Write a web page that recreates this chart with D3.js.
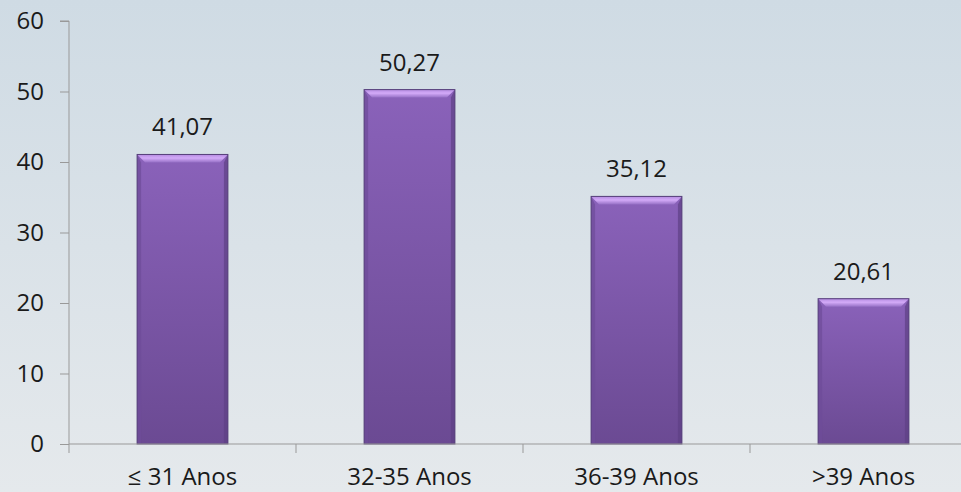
<!DOCTYPE html>
<meta charset='utf-8'>
<style>
  body { margin: 0; }
  svg { display: block; font-family: "Open Sans", sans-serif; }
</style>
<body></body>
<script src="https://cdn.jsdelivr.net/npm/d3@7"></script>
<script>

// data
const categories = ['≤ 31 Anos', '32-35 Anos', '36-39 Anos', '>39 Anos'];
const values = [41.07, 50.27, 35.12, 20.61];
const yTicks = [0, 10, 20, 30, 40, 50, 60];

const width = 961, height = 492;
const margin = {left: 69, top: 21, bottom: 48};
const fontSize = 24;

const svg = d3.select('body').append('svg')
  .attr('width', width)
  .attr('height', height);

const defs = svg.append('defs');

const bg = defs.append('linearGradient').attr('id', 'bg')
  .attr('x1', 0).attr('y1', 0).attr('x2', 0).attr('y2', 1);
bg.append('stop').attr('offset', '0%').attr('stop-color', '#cfdbe4');
bg.append('stop').attr('offset', '100%').attr('stop-color', '#e5e9ec');

const barFill = defs.append('linearGradient').attr('id', 'barFill')
  .attr('x1', 0).attr('y1', 0).attr('x2', 0).attr('y2', 1);
barFill.append('stop').attr('offset', '0%').attr('stop-color', '#8a62ba');
barFill.append('stop').attr('offset', '100%').attr('stop-color', '#6b4a93');

const topFill = defs.append('linearGradient').attr('id', 'topFill')
  .attr('x1', 0).attr('y1', 0).attr('x2', 0).attr('y2', 1);
topFill.append('stop').attr('offset', '0%').attr('stop-color', '#b48ae0');
topFill.append('stop').attr('offset', '45%').attr('stop-color', '#d3aaf8');
topFill.append('stop').attr('offset', '100%').attr('stop-color', '#9670c6');

svg.append('rect').attr('width', width).attr('height', height).attr('fill', 'url(#bg)');

const x = d3.scaleBand()
  .domain(categories)
  .range([margin.left, 977])
  .paddingInner(0.6)
  .paddingOuter(0.3);

const y = d3.scaleLinear()
  .domain([0, 60])
  .range([height - margin.bottom, margin.top]);

// bars
const bev = 8, side = 4;
const bars = svg.append('g').selectAll('g')
  .data(values)
  .join('g')
  .attr('transform', (d, i) => `translate(${x(categories[i])},0)`);

bars.each(function(d) {
  const g = d3.select(this);
  const w = x.bandwidth(), t = y(d), b = y(0);
  g.append('rect')
    .attr('x', 0).attr('y', t).attr('width', w).attr('height', b - t)
    .attr('fill', 'url(#barFill)');
  // side bevels
  g.append('path')
    .attr('d', `M0,${t}L${side},${t + bev}L${side},${b}L0,${b}Z`)
    .attr('fill', '#6e4c98').attr('opacity', 0.7);
  g.append('path')
    .attr('d', `M${w},${t}L${w - side},${t + bev}L${w - side},${b}L${w},${b}Z`)
    .attr('fill', '#5e4084').attr('opacity', 0.7);
  // top bevel
  g.append('path')
    .attr('d', `M0,${t}L${w},${t}L${w - bev},${t + bev}L${bev},${t + bev}Z`)
    .attr('fill', 'url(#topFill)');
  g.append('rect')
    .attr('x', 0).attr('y', t).attr('width', w).attr('height', b - t)
    .attr('fill', 'none')
    .attr('stroke', '#56407a').attr('stroke-width', 1);
});

// value labels
const fmt = d3.formatLocale({decimal: ',', thousands: '.', grouping: [3], currency: ['', '']}).format('.2f');
svg.append('g').selectAll('text')
  .data(values)
  .join('text')
  .attr('x', (d, i) => x(categories[i]) + x.bandwidth() / 2)
  .attr('y', d => y(d) - 19)
  .attr('text-anchor', 'middle')
  .attr('font-size', fontSize)
  .attr('fill', '#1a1a1a')
  .text(d => fmt(d));

// y axis
const yAxis = svg.append('g')
  .attr('transform', `translate(${margin.left},0)`)
  .call(d3.axisLeft(y).tickValues(yTicks).tickSize(9).tickPadding(16).tickFormat(d3.format('d')));
yAxis.select('.domain').attr('stroke', '#999').attr('d', `M-9,${y(60)}H0V${y(0)}`);
yAxis.selectAll('.tick line').attr('stroke', '#999');
yAxis.selectAll('.tick text').attr('font-size', fontSize).attr('fill', '#1a1a1a')
  .attr('font-family', '"Open Sans", sans-serif');

// x axis
const step = x.step();
const xBounds = [margin.left].concat(categories.map((c, i) => margin.left + step * (i + 1)));
const xAxis = svg.append('g').attr('transform', `translate(0,${y(0)})`);
xAxis.append('line')
  .attr('x1', margin.left).attr('x2', 977)
  .attr('stroke', '#999');
xAxis.selectAll('.sep')
  .data(xBounds)
  .join('line')
  .attr('class', 'sep')
  .attr('x1', d => d).attr('x2', d => d)
  .attr('y1', 0).attr('y2', 9)
  .attr('stroke', '#999');
xAxis.selectAll('text')
  .data(categories)
  .join('text')
  .attr('x', d => x(d) + x.bandwidth() / 2)
  .attr('y', 41)
  .attr('text-anchor', 'middle')
  .attr('font-size', fontSize)
  .attr('fill', '#1a1a1a')
  .text(d => d);

</script>
